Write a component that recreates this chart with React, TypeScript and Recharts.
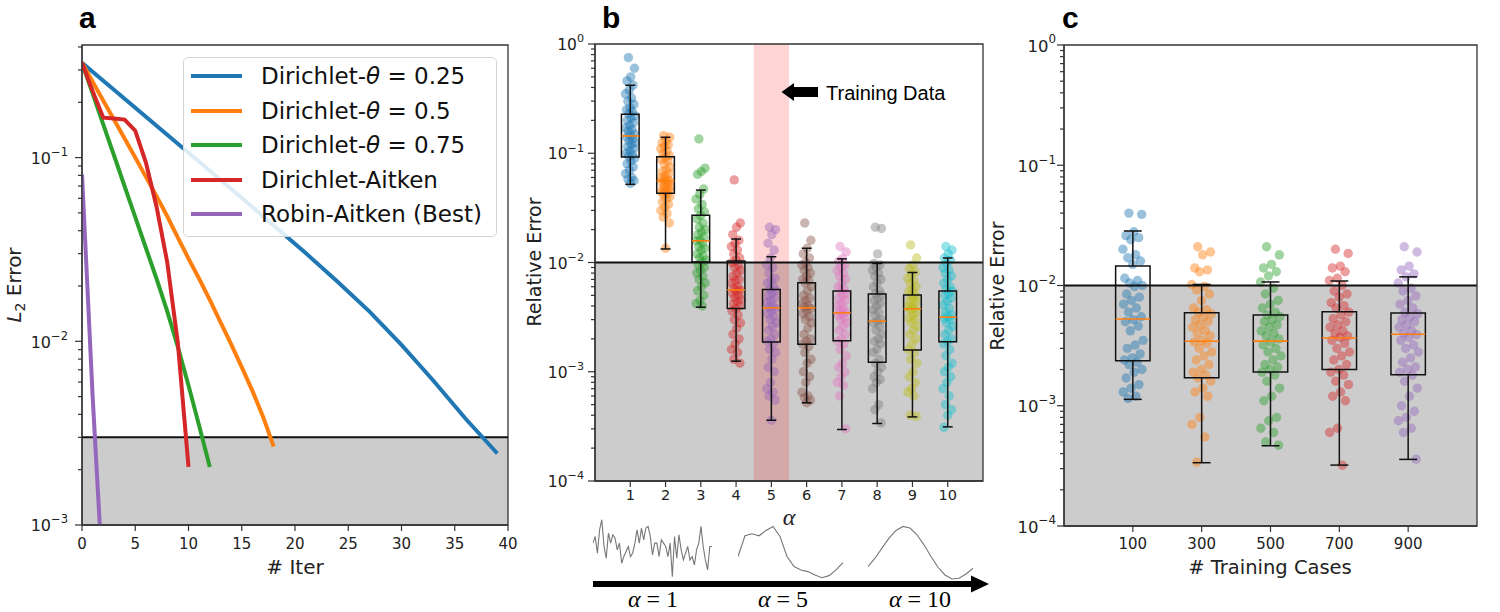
import React from 'react';
import {
  LineChart,
  Line,
  XAxis,
  YAxis,
  ReferenceArea,
  ReferenceLine,
  Legend,
  ScatterChart,
  Scatter,
} from 'recharts';

const SANS = '"DejaVu Sans", Verdana, sans-serif';
const ARIAL = '"Liberation Sans", Arial, sans-serif';
const SERIF = '"Liberation Serif", "Times New Roman", serif';
const AXIS = '#333';
const GRAY = '#cccccc';
const MEDIAN = '#ff7f0e';
const TAB10 = ['#1f77b4', '#ff7f0e', '#2ca02c', '#d62728', '#9467bd', '#8c564b', '#e377c2', '#7f7f7f', '#bcbd22', '#17becf'];

// ---- panel a: L2 error vs iteration ----
const seriesNames = ['Dirichlet-θ = 0.25', 'Dirichlet-θ = 0.5', 'Dirichlet-θ = 0.75', 'Dirichlet-Aitken', 'Robin-Aitken (Best)'];
const theta025Iter = [0, 3, 6, 9, 12, 15, 18, 21, 24, 27, 30, 33, 36, 39];
const theta025Err = [0.328, 0.234, 0.167, 0.119, 0.0847, 0.0603, 0.0427, 0.0302, 0.0211, 0.0145, 0.00955, 0.0061, 0.0038, 0.00245];
const theta05Iter = [0, 1, 2, 3, 4, 5, 6, 7, 8, 9, 10, 11, 12, 13, 14, 15, 16, 17, 18];
const theta05Err = [0.328, 0.259, 0.204, 0.161, 0.127, 0.1, 0.0785, 0.0617, 0.0479, 0.0367, 0.0282, 0.0219, 0.0168, 0.0127, 0.00966, 0.00724, 0.00537, 0.00389, 0.00267];
const theta075Iter = [0, 1, 2, 3, 4, 5, 6, 7, 8, 9, 10, 11, 12];
const theta075Err = [0.328, 0.223, 0.151, 0.103, 0.0698, 0.0474, 0.0322, 0.0219, 0.0146, 0.00933, 0.00575, 0.00347, 0.00207];
const aitkenIter = [0, 1, 2, 3, 4, 5, 6, 7, 8, 9, 10];
const aitkenErr = [0.328, 0.23, 0.165, 0.163, 0.161, 0.14, 0.094, 0.054, 0.027, 0.0098, 0.00207];
const robinIter = [0, 1, 2];
const robinErr = [0.081, 0.005, 0.00045];
const iterTicks = [0, 5, 10, 15, 20, 25, 30, 35, 40];
const thresholdA = 0.003;

// ---- panel b: relative error vs alpha ----
const alphaTicks = [1, 2, 3, 4, 5, 6, 7, 8, 9, 10];
const bQ1 = [0.0923, 0.043, 0.0101, 0.0038, 0.00187, 0.00179, 0.00192, 0.00122, 0.00158, 0.00188];
const bMedian = [0.144, 0.056, 0.0158, 0.0056, 0.00385, 0.00385, 0.00346, 0.0029, 0.00377, 0.00316];
const bQ3 = [0.227, 0.093, 0.027, 0.0103, 0.00567, 0.00652, 0.00547, 0.00514, 0.00503, 0.00547];
const bWhiskerLo = [0.0519, 0.0133, 0.0039, 0.00125, 0.00036, 0.00052, 0.000296, 0.000336, 0.000386, 0.000313];
const bWhiskerHi = [0.419, 0.14, 0.046, 0.0164, 0.0113, 0.0135, 0.0108, 0.0098, 0.0081, 0.011];
const errAlpha1 = [0.75, 0.6, 0.5, 0.46, 0.42, 0.38, 0.35, 0.32, 0.3, 0.28, 0.26, 0.25, 0.24, 0.23, 0.22, 0.21, 0.2, 0.19, 0.18, 0.17, 0.165, 0.16, 0.15, 0.145, 0.14, 0.135, 0.13, 0.125, 0.12, 0.115, 0.11, 0.105, 0.1, 0.097, 0.094, 0.09, 0.085, 0.08, 0.075, 0.07, 0.065, 0.06, 0.058, 0.056, 0.053];
const errAlpha2 = [0.145, 0.14, 0.13, 0.125, 0.12, 0.115, 0.11, 0.105, 0.1, 0.095, 0.092, 0.088, 0.085, 0.08, 0.075, 0.07, 0.068, 0.065, 0.062, 0.06, 0.058, 0.057, 0.056, 0.055, 0.054, 0.052, 0.05, 0.049, 0.048, 0.047, 0.046, 0.045, 0.044, 0.043, 0.042, 0.04, 0.038, 0.036, 0.034, 0.032, 0.03, 0.028, 0.026, 0.023, 0.0135];
const errAlpha3 = [0.135, 0.073, 0.068, 0.064, 0.047, 0.042, 0.038, 0.034, 0.031, 0.029, 0.027, 0.025, 0.023, 0.021, 0.02, 0.019, 0.018, 0.017, 0.016, 0.0158, 0.015, 0.014, 0.0135, 0.013, 0.012, 0.0115, 0.011, 0.0105, 0.0101, 0.0095, 0.009, 0.0085, 0.008, 0.0075, 0.007, 0.0065, 0.006, 0.0055, 0.005, 0.0045, 0.0042, 0.004];
const errAlpha4 = [0.057, 0.023, 0.021, 0.018, 0.016, 0.015, 0.014, 0.013, 0.012, 0.011, 0.0105, 0.01, 0.0095, 0.009, 0.0085, 0.008, 0.0075, 0.007, 0.0068, 0.0065, 0.006, 0.0058, 0.0056, 0.0055, 0.0052, 0.005, 0.0048, 0.0046, 0.0044, 0.0042, 0.004, 0.0038, 0.0036, 0.0033, 0.003, 0.0028, 0.0025, 0.0022, 0.002, 0.0018, 0.0016, 0.0015, 0.0013, 0.0012];
const errAlpha5 = [0.021, 0.02, 0.018, 0.015, 0.013, 0.011, 0.0095, 0.009, 0.008, 0.0072, 0.0068, 0.0065, 0.006, 0.0057, 0.0055, 0.0052, 0.005, 0.0047, 0.0045, 0.0043, 0.004, 0.0039, 0.0038, 0.0036, 0.0034, 0.0032, 0.003, 0.0028, 0.0026, 0.0024, 0.0022, 0.002, 0.0019, 0.0018, 0.0016, 0.0015, 0.0013, 0.0011, 0.001, 0.0008, 0.0007, 0.00065, 0.0006, 0.00055, 0.00036];
const errAlpha6 = [0.023, 0.016, 0.0135, 0.012, 0.011, 0.01, 0.0095, 0.009, 0.0085, 0.008, 0.0075, 0.007, 0.0068, 0.0065, 0.006, 0.0055, 0.005, 0.0047, 0.0045, 0.0042, 0.004, 0.0039, 0.0038, 0.0036, 0.0034, 0.0032, 0.003, 0.0028, 0.0025, 0.0022, 0.002, 0.0019, 0.0018, 0.0017, 0.0015, 0.0013, 0.0012, 0.001, 0.0009, 0.0008, 0.00065, 0.0006, 0.00058, 0.00055, 0.00052];
const errAlpha7 = [0.014, 0.0125, 0.0108, 0.0102, 0.0095, 0.009, 0.0085, 0.008, 0.0075, 0.007, 0.0065, 0.006, 0.0057, 0.0055, 0.0052, 0.005, 0.0047, 0.0045, 0.0042, 0.004, 0.0038, 0.0036, 0.0035, 0.0034, 0.0033, 0.0031, 0.003, 0.0028, 0.0026, 0.0024, 0.0022, 0.002, 0.0019, 0.0018, 0.0016, 0.0014, 0.0012, 0.0011, 0.001, 0.0009, 0.0008, 0.00075, 0.0006, 0.0003];
const errAlpha8 = [0.021, 0.0205, 0.012, 0.0098, 0.0095, 0.009, 0.0085, 0.008, 0.0075, 0.007, 0.0065, 0.006, 0.0055, 0.0052, 0.005, 0.0047, 0.0045, 0.0042, 0.004, 0.0037, 0.0035, 0.0033, 0.003, 0.0029, 0.0028, 0.0026, 0.0024, 0.0022, 0.002, 0.0019, 0.0018, 0.0016, 0.0015, 0.0013, 0.0012, 0.0011, 0.001, 0.0009, 0.00085, 0.0008, 0.0007, 0.0005, 0.00045, 0.00034];
const errAlpha9 = [0.0145, 0.011, 0.0095, 0.0088, 0.0082, 0.0078, 0.0072, 0.0068, 0.0064, 0.006, 0.0057, 0.0054, 0.0051, 0.005, 0.0048, 0.0046, 0.0044, 0.0042, 0.004, 0.0039, 0.0038, 0.0037, 0.0035, 0.0033, 0.0031, 0.003, 0.0028, 0.0026, 0.0024, 0.0022, 0.002, 0.0018, 0.0016, 0.0015, 0.0013, 0.0012, 0.001, 0.0009, 0.0008, 0.0007, 0.00065, 0.0006, 0.0004, 0.00039];
const errAlpha10 = [0.014, 0.013, 0.012, 0.011, 0.0105, 0.0098, 0.009, 0.0085, 0.008, 0.0075, 0.007, 0.0065, 0.006, 0.0057, 0.0055, 0.0052, 0.005, 0.0047, 0.0044, 0.0041, 0.0038, 0.0035, 0.0033, 0.0032, 0.0031, 0.003, 0.0028, 0.0026, 0.0024, 0.0022, 0.002, 0.0019, 0.0018, 0.0016, 0.0014, 0.0012, 0.0011, 0.001, 0.0009, 0.0008, 0.0007, 0.0006, 0.0005, 0.00045, 0.0004, 0.00031];
const trainingAlpha = 5;

// sketches of the input signal for a few alphas
const waveAlpha1 = [11, 13, 8, 15, 18, 10, 6.5, 14, 11, 13.5, 12.5, 9, 11, 5, 7, 8.5, 10, 7, 8, 11, 15, 11, 15.5, 12, 15.5, 16, 13, 7.5, 11, 11, 7, 12, 11, 10, 7, 11, 1, 13, 6.5, 13.5, 9, 6, 8, 10, 6, 7, 4.5, 9, 11, 16, 10, 6, 3, 10, 10];
const waveAlpha5 = [7, 13.2, 13.8, 13.2, 14.8, 16, 13, 7, 4, 3, 2.5, 1.5, 0.7, 1.3, 3, 5.2];
const waveAlpha10 = [4, 6.5, 9.5, 12.5, 14.8, 16, 15.5, 13.5, 10.5, 7, 3.8, 1.5, 0.3, 0.5, 1.8, 3.5];

// ---- panel c: relative error vs number of training cases ----
const casesTicks = [100, 300, 500, 700, 900];
const cQ1 = [0.00237, 0.00171, 0.00191, 0.002, 0.00181];
const cMedian = [0.00526, 0.00344, 0.00345, 0.00366, 0.00393];
const cQ3 = [0.0145, 0.00594, 0.00569, 0.00606, 0.0059];
const cWhiskerLo = [0.00113, 0.000336, 0.000465, 0.000321, 0.000358];
const cWhiskerHi = [0.0284, 0.0102, 0.0107, 0.0109, 0.0118];
const errCases100 = [0.04, 0.039, 0.028, 0.026, 0.025, 0.024, 0.02, 0.018, 0.017, 0.016, 0.015, 0.0115, 0.011, 0.0105, 0.01, 0.0098, 0.0085, 0.008, 0.0075, 0.007, 0.0065, 0.006, 0.0055, 0.0052, 0.005, 0.0046, 0.0042, 0.0035, 0.0032, 0.003, 0.0027, 0.0025, 0.0024, 0.0023, 0.0022, 0.002, 0.0019, 0.0017, 0.0015, 0.0014, 0.0013, 0.0012, 0.00115];
const errCases300 = [0.021, 0.019, 0.018, 0.014, 0.0135, 0.013, 0.0102, 0.0098, 0.0092, 0.0085, 0.0075, 0.0065, 0.0063, 0.006, 0.0058, 0.0055, 0.0052, 0.005, 0.0047, 0.0045, 0.0042, 0.004, 0.0038, 0.0035, 0.0034, 0.0033, 0.003, 0.0028, 0.0026, 0.0024, 0.0022, 0.002, 0.0019, 0.0018, 0.0017, 0.0016, 0.0014, 0.0013, 0.0012, 0.0008, 0.0007, 0.00055, 0.00034];
const errCases500 = [0.021, 0.018, 0.015, 0.014, 0.013, 0.012, 0.0107, 0.0095, 0.0085, 0.0075, 0.007, 0.0065, 0.006, 0.0057, 0.0055, 0.0052, 0.005, 0.0047, 0.0045, 0.0042, 0.004, 0.0038, 0.0036, 0.0034, 0.0032, 0.003, 0.0028, 0.0026, 0.0024, 0.0022, 0.0021, 0.002, 0.0019, 0.0018, 0.0016, 0.0014, 0.0012, 0.0011, 0.0008, 0.00075, 0.00065, 0.0006, 0.0005, 0.00047];
const errCases700 = [0.02, 0.0185, 0.0145, 0.014, 0.013, 0.0115, 0.011, 0.01, 0.009, 0.0085, 0.008, 0.0072, 0.0068, 0.0065, 0.006, 0.0057, 0.0053, 0.005, 0.0047, 0.0045, 0.0042, 0.004, 0.0038, 0.0037, 0.0035, 0.0033, 0.003, 0.0028, 0.0026, 0.0024, 0.0022, 0.002, 0.0019, 0.0018, 0.0016, 0.0015, 0.0013, 0.0012, 0.0011, 0.00065, 0.0006, 0.00032];
const errCases900 = [0.021, 0.019, 0.0145, 0.0135, 0.0125, 0.0118, 0.0105, 0.0095, 0.009, 0.0082, 0.0075, 0.007, 0.0065, 0.006, 0.0058, 0.0055, 0.0052, 0.005, 0.0047, 0.0045, 0.0042, 0.004, 0.0039, 0.0037, 0.0035, 0.0032, 0.003, 0.0028, 0.0025, 0.0023, 0.0021, 0.002, 0.0019, 0.0018, 0.0016, 0.0014, 0.0012, 0.001, 0.0009, 0.0008, 0.00075, 0.00065, 0.0006, 0.00036];
const thresholdBC = 0.01;

const seriesA = [
  { name: seriesNames[0], color: TAB10[0], iters: theta025Iter, errs: theta025Err },
  { name: seriesNames[1], color: TAB10[1], iters: theta05Iter, errs: theta05Err },
  { name: seriesNames[2], color: TAB10[2], iters: theta075Iter, errs: theta075Err },
  { name: seriesNames[3], color: TAB10[3], iters: aitkenIter, errs: aitkenErr },
  { name: seriesNames[4], color: TAB10[4], iters: robinIter, errs: robinErr },
];
const bGroups = [errAlpha1, errAlpha2, errAlpha3, errAlpha4, errAlpha5, errAlpha6, errAlpha7, errAlpha8, errAlpha9, errAlpha10];
const cGroups = [errCases100, errCases300, errCases500, errCases700, errCases900];

// log ticks: majors get a label, minors just a short mark
const minorMult = [2, 3, 4, 5, 6, 7, 8, 9];
function logTicks(majors: number[], top: number) {
  const out: number[] = [];
  majors.forEach((m) => {
    out.push(m);
    minorMult.forEach((k) => {
      const v = m * k;
      if (v <= top && !majors.includes(Math.round(v * 1e6) / 1e6)) out.push(v);
    });
  });
  return out;
}
const ticksA = logTicks([0.001, 0.01, 0.1], 0.41);
const ticksBC = logTicks([0.0001, 0.001, 0.01, 0.1, 1], 1);

// fixed sideways scatter (golden-ratio sequence) so the dots spread like a strip plot
const jitter = (i: number, spread: number) => (((i * 0.618034 + 0.31) % 1) - 0.5) * 2 * spread;

const makeLogTick = (fs: number, gap: number) => (p: any) => {
  const { x, y, payload } = p;
  const e = Math.log10(payload.value);
  const n = Math.round(e);
  const major = Math.abs(e - n) < 1e-6;
  return (
    <g>
      <line x1={x - (major ? 7 : 4)} x2={x} y1={y} y2={y} stroke={AXIS} strokeWidth={1.2} />
      {major && (
        <text x={x - gap} y={y + fs * 0.4} textAnchor="end" fontFamily={SANS} fontSize={fs} fill="#222">
          10
          <tspan dy={-fs * 0.5} fontSize={fs * 0.72}>
            {n < 0 ? '\u2212' + -n : String(n)}
          </tspan>
        </text>
      )}
    </g>
  );
};

const makeXTick = (fs: number, off: number) => (p: any) => (
  <g>
    <line x1={p.x} x2={p.x} y1={p.y} y2={p.y + 6} stroke={AXIS} strokeWidth={1.2} />
    <text x={p.x} y={p.y + off} textAnchor="middle" fontFamily={SANS} fontSize={fs} fill="#222">
      {p.payload.value}
    </text>
  </g>
);

function nameWithTheta(name: string) {
  const parts = name.split('θ');
  if (parts.length < 2) return name;
  return (
    <>
      {parts[0]}
      <i>θ</i>
      {parts[1]}
    </>
  );
}

function LegendA() {
  return (
    <div
      style={{
        width: 314,
        height: 180,
        boxSizing: 'border-box',
        border: '1px solid #d4d4d4',
        borderRadius: 5,
        background: 'rgba(255,255,255,0.85)',
        position: 'relative',
      }}
    >
      {seriesA.map((s, i) => (
        <div
          key={s.name}
          style={{ position: 'absolute', left: 7, top: 3 + i * 34.6, height: 30, display: 'flex', alignItems: 'center' }}
        >
          <div style={{ width: 51, height: 4, background: s.color }} />
          <span style={{ marginLeft: 19, fontFamily: SANS, fontSize: 23, color: '#111', whiteSpace: 'nowrap' }}>
            {nameWithTheta(s.name)}
          </span>
        </div>
      ))}
    </div>
  );
}

function boxPlot(pos: number, q1: number, med: number, q3: number, lo: number, hi: number, half: number, cap: number, key: string) {
  const line = { stroke: '#111', strokeWidth: 1.5, ifOverflow: 'visible' as const, zIndex: 700 };
  return [
    <ReferenceLine key={key + 'wl'} segment={[{ x: pos, y: lo }, { x: pos, y: q1 }]} {...line} />,
    <ReferenceLine key={key + 'wh'} segment={[{ x: pos, y: q3 }, { x: pos, y: hi }]} {...line} />,
    <ReferenceLine key={key + 'cl'} segment={[{ x: pos - cap, y: lo }, { x: pos + cap, y: lo }]} {...line} />,
    <ReferenceLine key={key + 'ch'} segment={[{ x: pos - cap, y: hi }, { x: pos + cap, y: hi }]} {...line} />,
    <ReferenceArea
      key={key + 'box'}
      x1={pos - half}
      x2={pos + half}
      y1={q1}
      y2={q3}
      fill="none"
      fillOpacity={0}
      stroke="#111"
      strokeWidth={1.5}
      zIndex={700}
    />,
    <ReferenceLine
      key={key + 'med'}
      segment={[{ x: pos - half, y: med }, { x: pos + half, y: med }]}
      stroke={MEDIAN}
      strokeWidth={1.6}
      zIndex={710}
    />,
  ];
}

const dot = (color: string) => (p: any) => <circle cx={p.cx} cy={p.cy} r={4.7} fill={color} fillOpacity={0.45} />;

function PanelA() {
  return (
    <div style={{ position: 'absolute', left: 0, top: 0 }}>
      <LineChart width={540} height={612} margin={{ top: 45, right: 32, bottom: 47, left: 22 }}>
        <XAxis
          type="number"
          dataKey="iter"
          domain={[0, 40]}
          ticks={iterTicks}
          interval={0}
          allowDataOverflow
          height={40}
          tickSize={0}
          tickMargin={0}
          tickLine={false}
          axisLine={{ stroke: AXIS, strokeWidth: 1.3 }}
          tick={makeXTick(15, 23.5)}
        />
        <YAxis
          type="number"
          scale="log"
          domain={[0.001, 0.41]}
          ticks={ticksA}
          interval={0}
          allowDataOverflow
          width={60}
          tickSize={0}
          tickMargin={0}
          tickLine={false}
          axisLine={{ stroke: AXIS, strokeWidth: 1.3 }}
          tick={makeLogTick(16, 14)}
        />
        <ReferenceArea x1={0} x2={40} y1={0.001} y2={thresholdA} fill={GRAY} fillOpacity={1} stroke="none" />
        <ReferenceLine y={thresholdA} stroke="#111" strokeWidth={2} />
        {seriesA.map((s) => (
          <Line
            key={s.name}
            name={s.name}
            data={s.iters.map((it, i) => ({ iter: it, err: s.errs[i] }))}
            dataKey="err"
            type="linear"
            stroke={s.color}
            strokeWidth={4}
            dot={false}
            activeDot={false}
            isAnimationActive={false}
          />
        ))}
        <ReferenceArea x1={0} x2={40} y1={0.001} y2={0.41} fill="none" fillOpacity={0} stroke={AXIS} strokeWidth={1.3} />
        <Legend
          layout="vertical"
          align="center"
          verticalAlign="middle"
          wrapperStyle={{ left: 183, top: 57, width: 314, height: 180 }}
          content={() => <LegendA />}
        />
      </LineChart>
    </div>
  );
}

function PanelB() {
  return (
    <div style={{ position: 'absolute', left: 520, top: 0 }}>
      <ScatterChart width={480} height={612} margin={{ top: 44, right: 17, bottom: 91, left: 15 }}>
        <XAxis
          type="number"
          dataKey="x"
          domain={[0, 11]}
          ticks={alphaTicks}
          interval={0}
          allowDataOverflow
          height={40}
          tickSize={0}
          tickMargin={0}
          tickLine={false}
          axisLine={{ stroke: AXIS, strokeWidth: 1.3 }}
          tick={makeXTick(14.5, 19)}
        />
        <YAxis
          type="number"
          dataKey="y"
          scale="log"
          domain={[0.0001, 1]}
          ticks={ticksBC}
          interval={0}
          allowDataOverflow
          width={60}
          tickSize={0}
          tickMargin={0}
          tickLine={false}
          axisLine={{ stroke: AXIS, strokeWidth: 1.3 }}
          tick={makeLogTick(15.5, 11)}
        />
        <ReferenceArea x1={0} x2={11} y1={0.0001} y2={thresholdBC} fill={GRAY} fillOpacity={1} stroke="none" />
        <ReferenceArea
          x1={trainingAlpha - 0.5}
          x2={trainingAlpha + 0.5}
          y1={0.0001}
          y2={1}
          fill="#ff0000"
          fillOpacity={0.17}
          stroke="none"
        />
        {bGroups.map((g, gi) => (
          <Scatter
            key={'b' + gi}
            data={g.map((v, i) => ({ x: alphaTicks[gi] + jitter(i, 0.14), y: v }))}
            shape={dot(TAB10[gi])}
            isAnimationActive={false}
          />
        ))}
        {alphaTicks.flatMap((pos, i) =>
          boxPlot(pos, bQ1[i], bMedian[i], bQ3[i], bWhiskerLo[i], bWhiskerHi[i], 0.25, 0.14, 'b' + i)
        )}
        <ReferenceLine y={thresholdBC} stroke="#111" strokeWidth={2} zIndex={720} />
        <ReferenceArea x1={0} x2={11} y1={0.0001} y2={1} fill="none" fillOpacity={0} stroke={AXIS} strokeWidth={1.3} zIndex={730} />
      </ScatterChart>
    </div>
  );
}

function PanelC() {
  return (
    <div style={{ position: 'absolute', left: 985, top: 0 }}>
      <ScatterChart width={515} height={612} margin={{ top: 45, right: 23, bottom: 46, left: 19 }}>
        <XAxis
          type="number"
          dataKey="x"
          domain={[-100, 1100]}
          ticks={casesTicks}
          interval={0}
          allowDataOverflow
          height={40}
          tickSize={0}
          tickMargin={0}
          tickLine={false}
          axisLine={{ stroke: AXIS, strokeWidth: 1.3 }}
          tick={makeXTick(15, 23)}
        />
        <YAxis
          type="number"
          dataKey="y"
          scale="log"
          domain={[0.0001, 1]}
          ticks={ticksBC}
          interval={0}
          allowDataOverflow
          width={60}
          tickSize={0}
          tickMargin={0}
          tickLine={false}
          axisLine={{ stroke: AXIS, strokeWidth: 1.3 }}
          tick={makeLogTick(16.5, 8)}
        />
        <ReferenceArea x1={-100} x2={1100} y1={0.0001} y2={thresholdBC} fill={GRAY} fillOpacity={1} stroke="none" />
        {cGroups.map((g, gi) => (
          <Scatter
            key={'c' + gi}
            data={g.map((v, i) => ({ x: casesTicks[gi] + jitter(i, 30), y: v }))}
            shape={dot(TAB10[gi])}
            isAnimationActive={false}
          />
        ))}
        {casesTicks.flatMap((pos, i) =>
          boxPlot(pos, cQ1[i], cMedian[i], cQ3[i], cWhiskerLo[i], cWhiskerHi[i], 50, 26, 'c' + i)
        )}
        <ReferenceLine y={thresholdBC} stroke="#111" strokeWidth={2} zIndex={720} />
        <ReferenceArea x1={-100} x2={1100} y1={0.0001} y2={1} fill="none" fillOpacity={0} stroke={AXIS} strokeWidth={1.3} zIndex={730} />
      </ScatterChart>
    </div>
  );
}

function Wave({ values, left, width }: { values: number[]; left: number; width: number }) {
  return (
    <div style={{ position: 'absolute', left, top: 513 }}>
      <LineChart width={width} height={67} data={values.map((v, i) => ({ i, v }))} margin={{ top: 0, right: 0, bottom: 0, left: 0 }}>
        <XAxis hide type="number" dataKey="i" domain={['dataMin', 'dataMax']} />
        <YAxis hide domain={[0, 20]} />
        <Line dataKey="v" type="linear" stroke="#777" strokeWidth={1.1} dot={false} activeDot={false} isAnimationActive={false} />
      </LineChart>
    </div>
  );
}

function Annotations() {
  return (
    <svg width={1500} height={612} style={{ position: 'absolute', left: 0, top: 0, pointerEvents: 'none' }}>
      <g fontFamily={ARIAL} fontWeight="bold" fontSize={30} fill="#000">
        <text x={79} y={28}>a</text>
        <text x={602} y={28}>b</text>
        <text x={1062} y={28}>c</text>
      </g>
      <g fontFamily={SANS} fill="#222">
        <text transform="translate(21,285) rotate(-90)" textAnchor="middle" fontSize={20}>
          <tspan fontStyle="italic">L</tspan>
          <tspan dy={4} fontSize={14}>2</tspan>
          <tspan dy={-4}> Error</tspan>
        </text>
        <text transform="translate(541,262) rotate(-90)" textAnchor="middle" fontSize={19}>Relative Error</text>
        <text transform="translate(1004,286) rotate(-90)" textAnchor="middle" fontSize={19}>Relative Error</text>
        <text x={295} y={574} textAnchor="middle" fontSize={20}># Iter</text>
        <text x={1270} y={574} textAnchor="middle" fontSize={19.5}># Training Cases</text>
      </g>
      <text x={789} y={525} textAnchor="middle" fontFamily={SERIF} fontStyle="italic" fontSize={24} fill="#222">α</text>
      <polygon points="781.5,92 794,83 794,87 818,87 818,97 794,97 794,101" fill="#000" />
      <text x={826} y={99.5} fontFamily={ARIAL} fontSize={20} fill="#000">Training Data</text>
      <line x1={593} x2={974} y1={584} y2={584} stroke="#000" strokeWidth={6} />
      <polygon points="971,575.5 989,584 971,592.5" fill="#000" />
      <g fontFamily={SERIF} fontSize={24} fill="#000" textAnchor="middle">
        <text x={653} y={607}>
          <tspan fontStyle="italic">α</tspan> = 1
        </text>
        <text x={783} y={607}>
          <tspan fontStyle="italic">α</tspan> = 5
        </text>
        <text x={920} y={607}>
          <tspan fontStyle="italic">α</tspan> = 10
        </text>
      </g>
    </svg>
  );
}

export default function App() {
  return (
    <div style={{ position: 'absolute', left: 0, top: 0, width: 1500, height: 612, background: '#fff' }}>
      <PanelA />
      <PanelB />
      <PanelC />
      <Wave values={waveAlpha1} left={593} width={119} />
      <Wave values={waveAlpha5} left={738} width={105} />
      <Wave values={waveAlpha10} left={868} width={105} />
      <Annotations />
    </div>
  );
}
